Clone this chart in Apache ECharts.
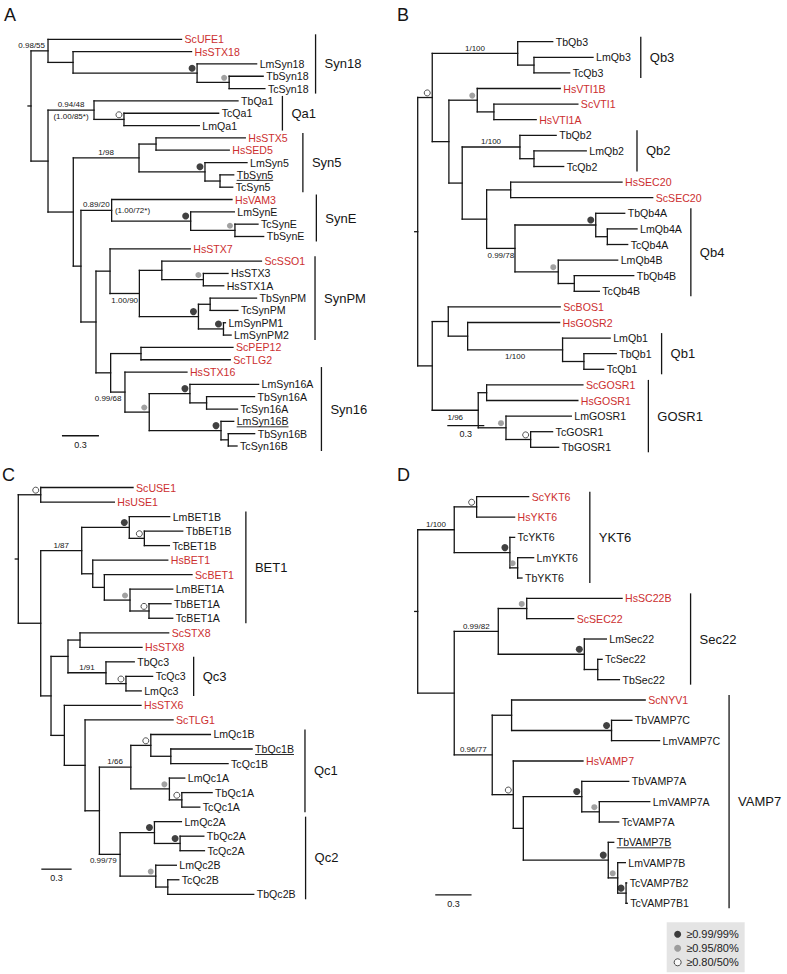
<!DOCTYPE html>
<html><head><meta charset="utf-8">
<script src="https://cdn.jsdelivr.net/npm/echarts@6/dist/echarts.min.js"></script>
<style>html,body{margin:0;padding:0;background:#fff}#c{width:787px;height:974px}</style>
</head><body><div id="c"></div>
<script>
// ---------------- DATA ----------------
// Trees (Newick, branch lengths in substitutions/site; internal nodes named for annotation)
const treeA = "((ScUFE1:1.083,(HsSTX18:0.961,(LmSyn18:0.483,(TbSyn18:0.276,TcSyn18:0.290)a4:0.260)a3:1.006)a2:0.203)a1:0.138,((TbQa1:1.168,(TcQa1:0.768,LmQa1:0.611)a7:0.243)qa1:0.373,(((HsSTX5:0.724,HsSED5:0.594)a9:0.138,(LmSyn5:0.341,(TbSyn5:0.111,TcSyn5:0.103)a9c:0.122)a9b:0.535)syn5:0.533,((HsVAM3:0.976,(LmSynE:0.354,(TcSynE:0.187,TbSynE:0.233)a12:0.359)a11:0.641)syne:0.249,((HsSTX7:0.651,((ScSSO1:0.808,(HsSTX3:0.200,HsSTX1A:0.165)a16:0.337)a15:0.182,((TbSynPM:0.376,TcSynPM:0.225)a18:0.095,(LmSynPM1:0.016,LmSynPM2:0.062)a19:0.203)a17:0.479)synpm:0.238)a13:0.114,((ScPEP12:0.746,ScTLG2:0.724)a20:0.246,(HsSTX16:0.503,((LmSyn16A:0.557,(TbSyn16A:0.389,TcSyn16A:0.251)a23:0.135)a22:0.330,(LmSyn16B:0.103,(TbSyn16B:0.214,TcSyn16B:0.071)a25:0.059)a24:0.582)a21:0.197)syn16:0.116)a14:0.119)a10:0.122)a8:0.062)a6:0.205)a5:0.138)root;";
const treeB = "(((TbQb3:0.284,(LmQb3:0.479,TcQb3:0.290)b3:0.132)qb3:0.693,((HsVTI1B:0.673,(ScVTI1:0.681,HsVTI1A:0.343)b5:0.135)vti:0.230,((TbQb2:0.294,(LmQb2:0.424,TcQb2:0.241)b7:0.114)qb2:0.468,((HsSEC20:0.903,ScSEC20:1.152)b8:0.195,((TbQb4A:0.235,(LmQb4A:0.241,TcQb4A:0.165)b11:0.094)b9:0.655,(LmQb4B:0.482,(TbQb4B:0.482,TcQb4B:0.203)b12:0.130)b10:0.351)qb4:0.230)b6:0.198)b4:0.108)b2:0.135)b1:0.118,((ScBOS1:0.908,(HsGOSR2:0.746,(LmQb1:0.386,(TbQb1:0.262,TcQb1:0.160)b16:0.173)qb1:0.770)b15:0.157)b14:0.130,((ScGOSR1:0.781,HsGOSR1:0.740)b17:0.068,(LmGOSR1:0.530,(TcGOSR1:0.178,TbGOSR1:0.227)b19:0.200)b18:0.225)gosr1:0.373)b13:0.118)root;";
const treeC = "((ScUSE1:0.914,HsUSE1:0.729)use:0.222,(((LmBET1B:0.400,(TbBET1B:0.380,TcBET1B:0.248)c16:0.149)c14:0.471,(HsBET1:0.743,(ScBET1:0.868,(LmBET1A:0.423,(TbBET1A:0.218,TcBET1A:0.235)c19:0.188)c18:0.254)c17:0.115)c15:0.109)bet1:0.406,(((ScSTX8:0.878,HsSTX8:0.614)c20:0.119,(TbQc3:0.280,(TcQc3:0.264,LmQc3:0.151)c21:0.198)qc3:0.376)c20x:0.168,(HsSTX6:0.759,(ScTLG1:0.871,(((LmQc1B:0.590,(TbQc1B:0.805,TcQc1B:0.567)c8:0.198)c6:0.198,(LmQc1A:0.152,(TbQc1A:0.300,TcQc1A:0.178)c9:0.123)c7:0.382)qc1:0.311,((LmQc2A:0.267,(TbQc2A:0.235,TcQc2A:0.241)c12:0.254)c10:0.340,(LmQc2B:0.204,(TcQc2B:0.109,TbQc2B:0.851)c13:0.119)c11:0.353)qc2:0.205)c5:0.142)c4:0.205)c3:0.132)c2:0.102)c1:0.222)root;";
const treeD = "(((ScYKT6:0.430,HsYKT6:0.314)d1:0.185,(TcYKT6:0.039,(LmYKT6:0.132,TbYKT6:0.036)d3:0.064)d2:0.460)ykt6:0.302,(((HsSC22B:0.788,ScSEC22:0.388)d5:0.235,(LmSec22:0.182,(TcSec22:0.036,TbSec22:0.179)d7:0.111)d6:0.711)sec22:0.364,((ScNYV1:1.104,(TbVAMP7C:0.168,LmVAMP7C:0.397)d9:0.826)d8:0.160,(HsVAMP7:0.576,((TbVAMP7A:0.388,(LmVAMP7A:0.417,TcVAMP7A:0.160)d13:0.145)d12:0.483,(TbVAMP7B:0.045,(LmVAMP7B:0.063,(TcVAMP7B2:0.005,TcVAMP7B1:0.010)d16:0.069)d15:0.078)d14:0.702)d11:0.083)d10:0.174)vamp7:0.314)d4:0.302)root;";

// Human / yeast sequences shown in red
const redA = ["ScUFE1","HsSTX18","HsSTX5","HsSED5","HsVAM3","HsSTX7","ScSSO1","ScPEP12","ScTLG2","HsSTX16"];
const redB = ["HsVTI1B","ScVTI1","HsVTI1A","HsSEC20","ScSEC20","ScBOS1","HsGOSR2","ScGOSR1","HsGOSR1"];
const redC = ["ScUSE1","HsUSE1","HsBET1","ScBET1","ScSTX8","HsSTX8","HsSTX6","ScTLG1"];
const redD = ["ScYKT6","HsYKT6","HsSC22B","ScSEC22","ScNYV1","HsVAMP7"];
// underlined leaves
const underA = ["TbSyn5","LmSyn16B"];
const underB = [];
const underC = ["TbQc1B"];
const underD = ["TbVAMP7B"];

// Support classes: nodes with >=0.99/99%, >=0.95/80%, >=0.80/50%
const blackA = ["a3","a9b","a11","a17","a19","a22","a24"];
const grayA  = ["a4","a12","a16","a21"];
const openA  = ["a7"];
const blackB = ["b9"];
const grayB  = ["vti","b10","b18"];
const openB  = ["b1","b19"];
const blackC = ["c14","c10","c12"];
const grayC  = ["c18","c7","c11"];
const openC  = ["use","c16","c19","c21","c6","c9"];
const blackD = ["d2","d6","d9","d12","d14","d16"];
const grayD  = ["d3","d5","d13","d15"];
const openD  = ["d1","d10"];

// Explicit support values [node, text, placement]
const supportA = [["a1","0.98/55","aboveR"],["qa1","0.94/48","above"],["qa1","(1.00/85*)","below"],["syn5","1/98","above"],["syne","0.89/20","above"],["syne","(1.00/72*)","right"],["synpm","1.00/90","below"],["syn16","0.99/68","belowR"]];
const supportB = [["qb3","1/100","above"],["qb2","1/100","above"],["qb4","0.99/78","below"],["qb1","1/100","below"],["gosr1","1/96","below"]];
const supportC = [["bet1","1/87","above"],["qc3","1/91","above"],["qc1","1/66","above"],["qc2","0.99/79","belowR"]];
const supportD = [["ykt6","1/100","above"],["sec22","0.99/82","above"],["vamp7","0.96/77","above"]];

// Clades [label, first leaf, last leaf]
const cladesA = [["Syn18","ScUFE1","TcSyn18"],["Qa1","TbQa1","LmQa1"],["Syn5","HsSTX5","TcSyn5"],["SynE","HsVAM3","TbSynE"],["SynPM","ScSSO1","LmSynPM2"],["Syn16","HsSTX16","TcSyn16B"]];
const cladesB = [["Qb3","TbQb3","TcQb3"],["Qb2","TbQb2","TcQb2"],["Qb4","TbQb4A","TcQb4B"],["Qb1","LmQb1","TcQb1"],["GOSR1","ScGOSR1","TbGOSR1"]];
const cladesC = [["BET1","LmBET1B","TcBET1A"],["Qc3","TbQc3","LmQc3"],["Qc1","LmQc1B","TcQc1A"],["Qc2","LmQc2A","TbQc2B"]];
const cladesD = [["YKT6","ScYKT6","TbYKT6"],["Sec22","HsSC22B","TbSec22"],["VAMP7","ScNYV1","TcVAMP7B1"]];

const scaleLen = 0.3;
const legendNames = ["\u22650.99/99%","\u22650.95/80%","\u22650.80/50%"];
const panelLetters = ["A","B","C","D"];

// ---------------- LAYOUT / STYLE ----------------
const FONT = "'Liberation Sans', Arial, Helvetica, sans-serif";
const INK = "#151515", RED = "#cc2f2f", GRAY = "#8a8a8a";
const LEAF_FS = 10.6, SUP_FS = 8, CLADE_FS = 13, LETTER_FS = 18, SCALE_FS = 9;
const LEAF_GAP = 3, BAR_PAD = 5, LW = 1.3;
const panels = [
  {tree:treeA, red:redA, under:underA, black:blackA, gray:grayA, open:openA, support:supportA, clades:cladesA,
   left:31, top:39.3, height:406.7, ppu:123.3, scaleAt:[0.251,32.17], gaps:[7,9,14,12,9,8], letter:[4,15]},
  {tree:treeB, red:redB, under:underB, black:blackB, gray:grayB, open:openB, support:supportB, clades:cladesB,
   left:417.7, top:41.7, height:405.6, ppu:123.3, scaleAt:[0.240,24.61], gaps:[10,13,9,10,13], letter:[397,15]},
  {tree:treeC, red:redC, under:underC, black:blackC, gray:grayC, open:openC, support:supportC, clades:cladesC,
   left:18.3, top:487.5, height:406.8, ppu:101, scaleAt:[0.228,26.27], gaps:[12,8,11,10], letter:[2,475]},
  {tree:treeD, red:redD, under:underD, black:blackD, gray:grayD, open:openD, support:supportD, clades:cladesD,
   left:417.7, top:496.7, height:406.6, ppu:121, scaleAt:[0.145,19.59], gaps:[12,19,9], letter:[397,475]}
];
const GRID_W = 300;

// ---------------- HELPERS ----------------
function parseNewick(str){
  const s = str.replace(/\s+/g,''); let i = 0;
  function node(){
    const n = {children:[], name:'', len:0, parent:null};
    if (s[i] === '('){
      i++;
      while (true){ const c = node(); c.parent = n; n.children.push(c); if (s[i] === ','){ i++; } else break; }
      i++;
    }
    let name = ''; while (i < s.length && ',():;'.indexOf(s[i]) < 0) name += s[i++];
    n.name = name;
    if (s[i] === ':'){ i++; let num=''; while (i < s.length && ',();'.indexOf(s[i]) < 0) num += s[i++]; n.len = parseFloat(num); }
    return n;
  }
  return node();
}
function layoutTree(root){
  const leaves = [], all = [], byName = {};
  (function walk(n, px){
    n.x = px + n.len; all.push(n); byName[n.name] = n;
    if (!n.children.length){ n.y = leaves.length; leaves.push(n); }
    else { n.children.forEach(c => walk(c, n.x)); n.y = (n.children[0].y + n.children[n.children.length-1].y)/2; }
  })(root, 0);
  return {leaves, all, byName};
}
const mctx = document.createElement('canvas').getContext('2d');
function tw(text, size){ mctx.font = size + 'px ' + FONT; return mctx.measureText(text).width; }

// ---------------- BUILD ----------------
const grids = [], xAxes = [], yAxes = [], series = [], graphics = [];
panels.forEach((P, p) => {
  const root = parseNewick(P.tree);
  const T = layoutTree(root);
  const N = T.leaves.length;
  grids.push({left:P.left, top:P.top, width:GRID_W, height:P.height, containLabel:false});
  xAxes.push({gridIndex:p, type:'value', min:0, max:GRID_W/P.ppu, show:false});
  yAxes.push({gridIndex:p, type:'value', min:0, max:N-1, inverse:true, show:false});
  const ax = {xAxisIndex:p, yAxisIndex:p, silent:true, animation:false};

  // branches
  const segs = [[-3/P.ppu, root.y, 0, root.y]];
  T.all.forEach(n => {
    if (n.parent) segs.push([n.parent.x, n.y, n.x, n.y]);
    if (n.children.length) segs.push([n.x, n.children[0].y, n.x, n.children[n.children.length-1].y]);
  });
  series.push(Object.assign({type:'custom', clip:false, data:segs, z:2,
    renderItem:(params, api) => {
      const a = api.coord([api.value(0), api.value(1)]), b = api.coord([api.value(2), api.value(3)]);
      return {type:'line', shape:{x1:a[0], y1:a[1], x2:b[0], y2:b[1]}, style:{stroke:INK, lineWidth:LW, lineCap:'square'}};
    }}, ax));

  // leaf labels
  series.push(Object.assign({type:'custom', clip:false, z:3, data:T.leaves.map(l => [l.x, l.y]),
    renderItem:(params, api) => {
      const l = T.leaves[params.dataIndex];
      const pt = api.coord([api.value(0), api.value(1)]);
      const x = pt[0] + LEAF_GAP;
      const col = P.red.indexOf(l.name) >= 0 ? RED : INK;
      const ch = [{type:'text', x:x, y:pt[1], style:{text:l.name, fill:col, fontSize:LEAF_FS, fontFamily:FONT, align:'left', verticalAlign:'middle'}}];
      if (P.under.indexOf(l.name) >= 0){
        const w = tw(l.name, LEAF_FS);
        ch.push({type:'line', shape:{x1:x, y1:pt[1]+5.5, x2:x+w, y2:pt[1]+5.5}, style:{stroke:col, lineWidth:0.9}});
      }
      return {type:'group', children:ch};
    }}, ax));

  // support values
  series.push(Object.assign({type:'custom', clip:false, z:3,
    data:P.support.map(s => { const n = T.byName[s[0]]; return [n.x, n.y, n.parent.x]; }),
    renderItem:(params, api) => {
      const s = P.support[params.dataIndex];
      const pt = api.coord([api.value(0), api.value(1)]);
      const pp = api.coord([api.value(2), api.value(1)]);
      let x, y, align = 'center';
      if (s[2] === 'above'){ x = (pt[0]+pp[0])/2; y = pt[1]-5.3; }
      else if (s[2] === 'below'){ x = (pt[0]+pp[0])/2; y = pt[1]+6.8; }
      else if (s[2] === 'aboveR'){ x = pt[0]-3; y = pt[1]-5.8; align='right'; }
      else if (s[2] === 'belowR'){ x = pt[0]-3.5; y = pt[1]+6.5; align='right'; }
      else { x = pt[0]+3.3; y = pt[1]; align='left'; }
      return {type:'text', x:x, y:y, style:{text:s[1], fill:INK, fontSize:SUP_FS, fontFamily:FONT, align:align, verticalAlign:'middle'}};
    }}, ax));

  // clade bars
  series.push(Object.assign({type:'custom', clip:false, z:3,
    data:P.clades.map(c => { const a = T.byName[c[1]], b = T.byName[c[2]]; return [a.x, a.y, b.y]; }),
    renderItem:(params, api) => {
      const c = P.clades[params.dataIndex];
      const i0 = api.value(1), i1 = api.value(2);
      let maxR = -Infinity;
      for (let k = i0; k <= i1; k++){
        const l = T.leaves[k]; const q = api.coord([l.x, l.y]);
        maxR = Math.max(maxR, q[0] + LEAF_GAP + tw(l.name, LEAF_FS));
      }
      const bx = maxR + P.gaps[params.dataIndex];
      const y0 = api.coord([0, i0])[1] - BAR_PAD, y1 = api.coord([0, i1])[1] + BAR_PAD;
      return {type:'group', children:[
        {type:'line', shape:{x1:bx, y1:y0, x2:bx, y2:y1}, style:{stroke:INK, lineWidth:LW}},
        {type:'text', x:bx+9, y:(y0+y1)/2, style:{text:c[0], fill:INK, fontSize:CLADE_FS, fontFamily:FONT, align:'left', verticalAlign:'middle'}}
      ]};
    }}, ax));

  // scale bar
  series.push(Object.assign({type:'custom', clip:false, z:3,
    data:[[P.scaleAt[0], P.scaleAt[1], P.scaleAt[0] + scaleLen]],
    renderItem:(params, api) => {
      const a = api.coord([api.value(0), api.value(1)]), b = api.coord([api.value(2), api.value(1)]);
      return {type:'group', children:[
        {type:'line', shape:{x1:a[0], y1:a[1], x2:b[0], y2:b[1]}, style:{stroke:INK, lineWidth:LW}},
        {type:'text', x:(a[0]+b[0])/2, y:a[1]+8.8, style:{text:String(scaleLen), fill:INK, fontSize:SCALE_FS, fontFamily:FONT, align:'center', verticalAlign:'middle'}}
      ]};
    }}, ax));

  // support markers
  const mk = (ids, name, size, style, off) => series.push(Object.assign({type:'scatter', name:name, z:5,
    data:ids.map(id => [T.byName[id].x, T.byName[id].y]),
    symbol:'circle', symbolSize:size, symbolOffset:off, itemStyle:style, emphasis:{disabled:true}}, ax));
  mk(P.black, legendNames[0], 7, {color:'#111'}, [-5,-5]);
  mk(P.gray, legendNames[1], 6, {color:GRAY}, [-5,-4.6]);
  mk(P.open, legendNames[2], 6, {color:'#fff', borderColor:'#111', borderWidth:0.9}, [-5,-4.6]);

  graphics.push({type:'text', x:P.letter[0], y:P.letter[1], silent:true,
    style:{text:panelLetters[p], fill:INK, fontSize:LETTER_FS, fontFamily:FONT, verticalAlign:'middle', align:'left'}});
});

const chart = echarts.init(document.getElementById('c'), null, {renderer:'svg'});
chart.setOption({
  animation:false,
  backgroundColor:'#fff',
  grid:grids, xAxis:xAxes, yAxis:yAxes, series:series, graphic:graphics,
  tooltip:{show:false},
  legend:{left:666.7, top:922.3, orient:'vertical', backgroundColor:'#e4e4e4', borderWidth:0,
    padding:[5,6,3,7], itemWidth:7, itemHeight:7, itemGap:0, selectedMode:false,
    textStyle:{fontSize:11, fontFamily:FONT, color:'#222', lineHeight:14},
    data:[
      {name:legendNames[0], icon:'circle', itemStyle:{color:'#111', borderWidth:0}},
      {name:legendNames[1], icon:'circle', itemStyle:{color:GRAY, borderWidth:0}},
      {name:legendNames[2], icon:'circle', itemStyle:{color:'#fff', borderColor:'#111', borderWidth:0.9}}
    ]}
});
</script>
</body></html>
